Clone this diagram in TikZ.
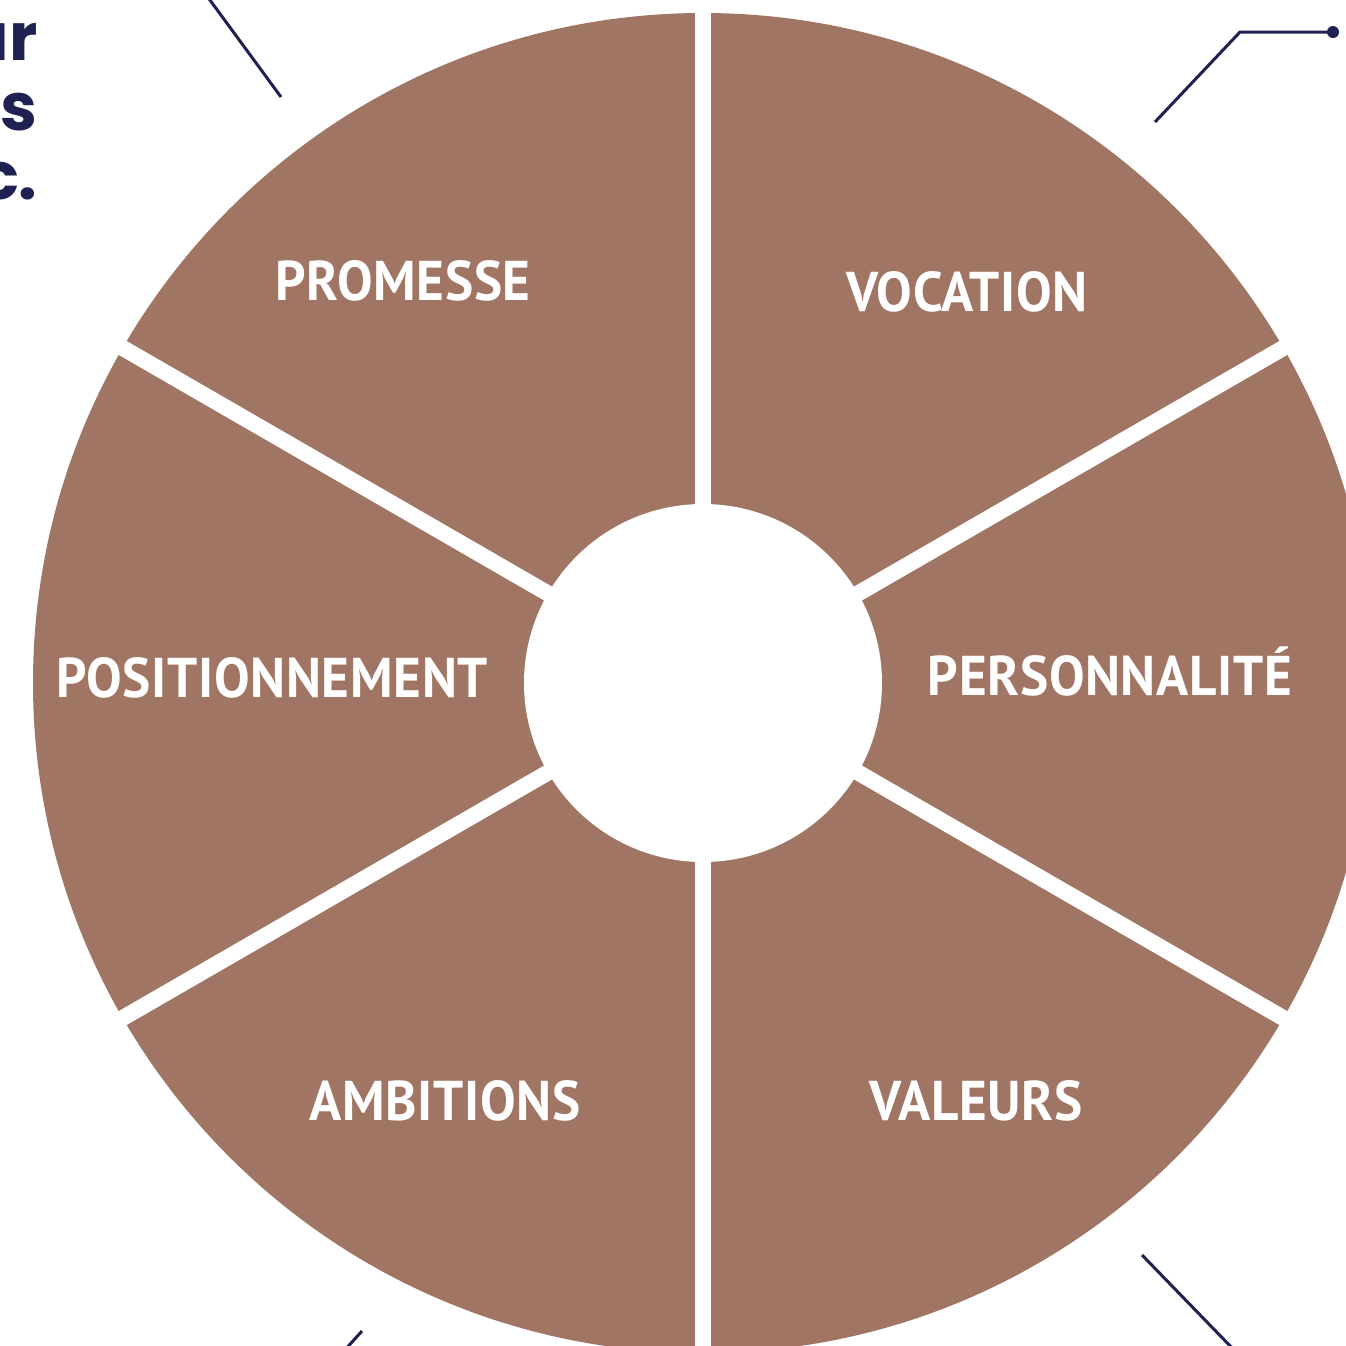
\documentclass[tikz,border=0pt]{standalone}
\usepackage{fontspec}
\newfontfamily\labelfont[FakeStretch=0.95,LetterSpace=1.2]{PT Sans}
\newfontfamily\bodyfont{Poppins}
\definecolor{wheel}{HTML}{A17563}
\definecolor{navy}{HTML}{1F2152}
\tikzset{
  seg/.style={font=\labelfont\bfseries\fontsize{28}{28}\selectfont, text=white, inner sep=0pt, anchor=center},
  bodytext/.style={font=\bodyfont\bfseries\fontsize{33}{33}\selectfont, text=navy, inner sep=0pt, anchor=base east},
  leader/.style={draw=navy, line width=1.5pt},
  divider/.style={draw=white, line width=8pt}
}
\begin{document}
\begin{tikzpicture}[x=0.5pt,y=-0.5pt]
\useasboundingbox (0,0) rectangle (1346,1346);
\clip (0,0) rectangle (1346,1346);
\fill[white] (0,0) rectangle (1346,1346);

% wheel body
\coordinate (c) at (703,683);
\fill[wheel] (c) circle[radius=670];
% dividers between the six segments
\foreach \a in {90,30,-30,-90,210,150}
  \draw[divider] (c) -- ++(\a:-720);
\fill[white] (c) circle[radius=179];

% segment labels
\node[seg] (promesse) at (403,281) {PROMESSE};
\node[seg] (vocation) at (967,292) {VOCATION};
\node[seg] (position) at (272,678) {POSITIONNEMENT};
\node[seg] (perso) at (1110,672) {PERSONNALIT\'E};
\node[seg] (ambitions) at (445,1101) {AMBITIONS};
\node[seg] (valeurs) at (976,1101) {VALEURS};

% paragraph text at the left border
\node[bodytext] (t1) at (38,60) {ur};
\node[bodytext] (t2) at (38,130) {es};
\node[bodytext] (t3) at (38,199) {c.};
\node[bodytext] (t4) at (4,1204) {.};

% leader lines
\coordinate (la1) at (207,-4);
\coordinate (la2) at (281,97);
\draw[leader] (la1) -- (la2);
\coordinate (lb1) at (1155,122);
\coordinate (lb2) at (1240,32);
\coordinate (lb3) at (1333,32);
\draw[leader] (lb1) -- (lb2) -- (lb3);
\fill[navy] (lb3) circle[radius=6];
\coordinate (lc1) at (1142,1255);
\coordinate (lc2) at (1236,1352);
\draw[leader] (lc1) -- (lc2);
\coordinate (ld1) at (362,1331);
\coordinate (ld2) at (343,1352);
\draw[leader] (ld1) -- (ld2);
\end{tikzpicture}
\end{document}
